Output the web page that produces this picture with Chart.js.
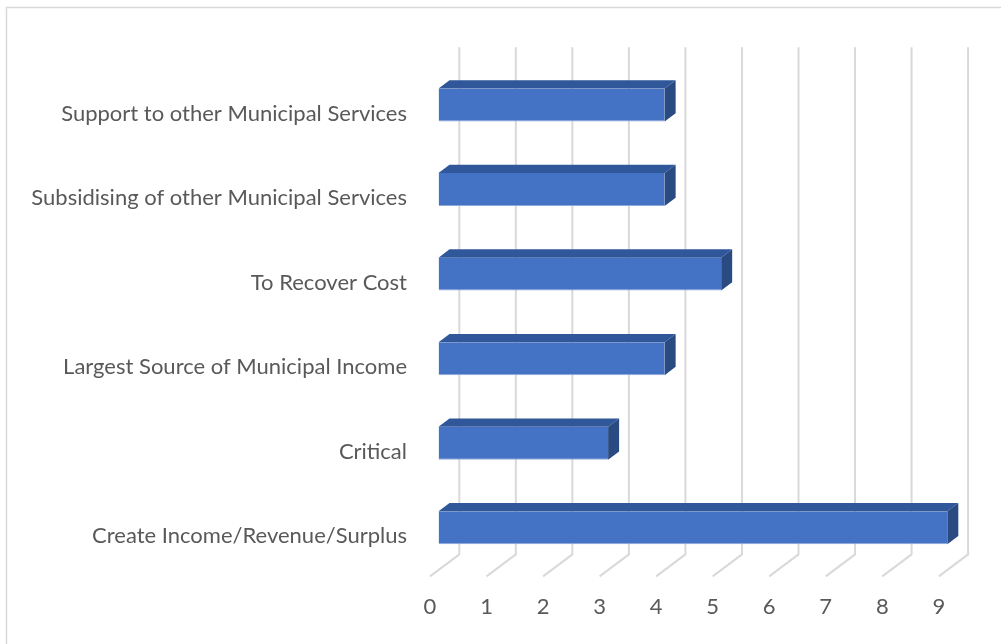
<!DOCTYPE html>
<html>
<head>
<meta charset="utf-8">
<title>Bar chart</title>
<script src="https://cdn.jsdelivr.net/npm/chart.js@4"></script>
<style>
  html, body { margin: 0; padding: 0; background: #ffffff; }
  #wrap { width: 1001px; height: 644px; position: relative; }
</style>
</head>
<body>
<div id="wrap"><canvas id="myChart" width="1001" height="644"></canvas></div>
<script>
const categories = [
  'Support to other Municipal Services',
  'Subsidising of other Municipal Services',
  'To Recover Cost',
  'Largest Source of Municipal Income',
  'Critical',
  'Create Income/Revenue/Surplus'
]
const values = [4, 4, 5, 4, 3, 9]
const xMin = 0
const xMax = 9

// oblique depth offsets, relative to the front face of the bars
const wall = { dx: 20.8, dy: -15.6 }
const floorFront = { dx: -8.5, dy: 6.4 }
const barDepth = { dx: 11, dy: -8.3 }

const textColor = '#595959'
const gridColor = '#d9d9d9'
const fontFamily = 'Lato, "Open Sans", sans-serif'

// frame round the chart, and the back wall / floor grid
const gridPlugin = {
  id: 'grid3d',
  beforeDatasetsDraw (chart) {
    const ctx = chart.ctx
    const area = chart.chartArea
    const x = chart.scales.x
    ctx.save()
    ctx.strokeStyle = gridColor
    ctx.lineWidth = 1.5
    ctx.strokeRect(6.5, 7.5, chart.width + 20, chart.height + 20)
    ctx.lineWidth = 2
    for (let v = xMin; v <= xMax; v++) {
      const xf = x.getPixelForValue(v)
      ctx.beginPath()
      ctx.moveTo(xf + wall.dx, area.top + wall.dy)
      ctx.lineTo(xf + wall.dx, area.bottom + wall.dy)
      ctx.lineTo(xf + floorFront.dx, area.bottom + floorFront.dy)
      ctx.stroke()
    }
    ctx.restore()
  },
  afterDatasetsDraw (chart) {
    const ctx = chart.ctx
    const meta = chart.getDatasetMeta(0)
    ctx.save()
    for (let bar of meta.data) {
      const p = bar.getProps(['x', 'y', 'base', 'height'], true)
      const left = Math.min(p.base, p.x)
      const right = Math.max(p.base, p.x)
      const top = p.y - p.height / 2
      const bottom = p.y + p.height / 2
      // top face
      ctx.fillStyle = '#30579a'
      ctx.beginPath()
      ctx.moveTo(left, top)
      ctx.lineTo(left + barDepth.dx, top + barDepth.dy)
      ctx.lineTo(right + barDepth.dx, top + barDepth.dy)
      ctx.lineTo(right, top)
      ctx.closePath()
      ctx.fill()
      // end face
      ctx.fillStyle = '#2a4a82'
      ctx.beginPath()
      ctx.moveTo(right, top)
      ctx.lineTo(right + barDepth.dx, top + barDepth.dy)
      ctx.lineTo(right + barDepth.dx, bottom + barDepth.dy)
      ctx.lineTo(right, bottom)
      ctx.closePath()
      ctx.fill()
    }
    ctx.restore()
  }
}

const ctx = document.getElementById('myChart').getContext('2d')
new Chart(ctx, {
  type: 'bar',
  data: {
    labels: categories,
    datasets: [
      {
        data: values,
        backgroundColor: '#4472c4',
        borderColor: '#8eaadb',
        borderWidth: { bottom: 1, left: 1 },
        categoryPercentage: 1,
        barPercentage: 0.39
      }
    ]
  },
  options: {
    indexAxis: 'y',
    responsive: false,
    animation: false,
    layout: { padding: { left: 0, top: 62.8, right: 53.7, bottom: 0 } },
    plugins: {
      legend: { display: false },
      tooltip: { enabled: false }
    },
    scales: {
      x: {
        min: xMin,
        max: xMax,
        grid: { display: false, drawTicks: false },
        border: { display: false },
        ticks: {
          stepSize: 1,
          color: textColor,
          font: { family: fontFamily, size: 22 },
          labelOffset: -8.5,
          padding: 24
        },
        afterFit (scale) { scale.height = 74 }
      },
      y: {
        grid: { display: false, drawTicks: false },
        border: { display: false },
        ticks: {
          color: textColor,
          font: { family: fontFamily, size: 22 },
          labelOffset: 8.5,
          padding: 31.5
        },
        afterFit (scale) { scale.width = 438.5 }
      }
    }
  },
  plugins: [gridPlugin]
})
</script>
</body>
</html>
